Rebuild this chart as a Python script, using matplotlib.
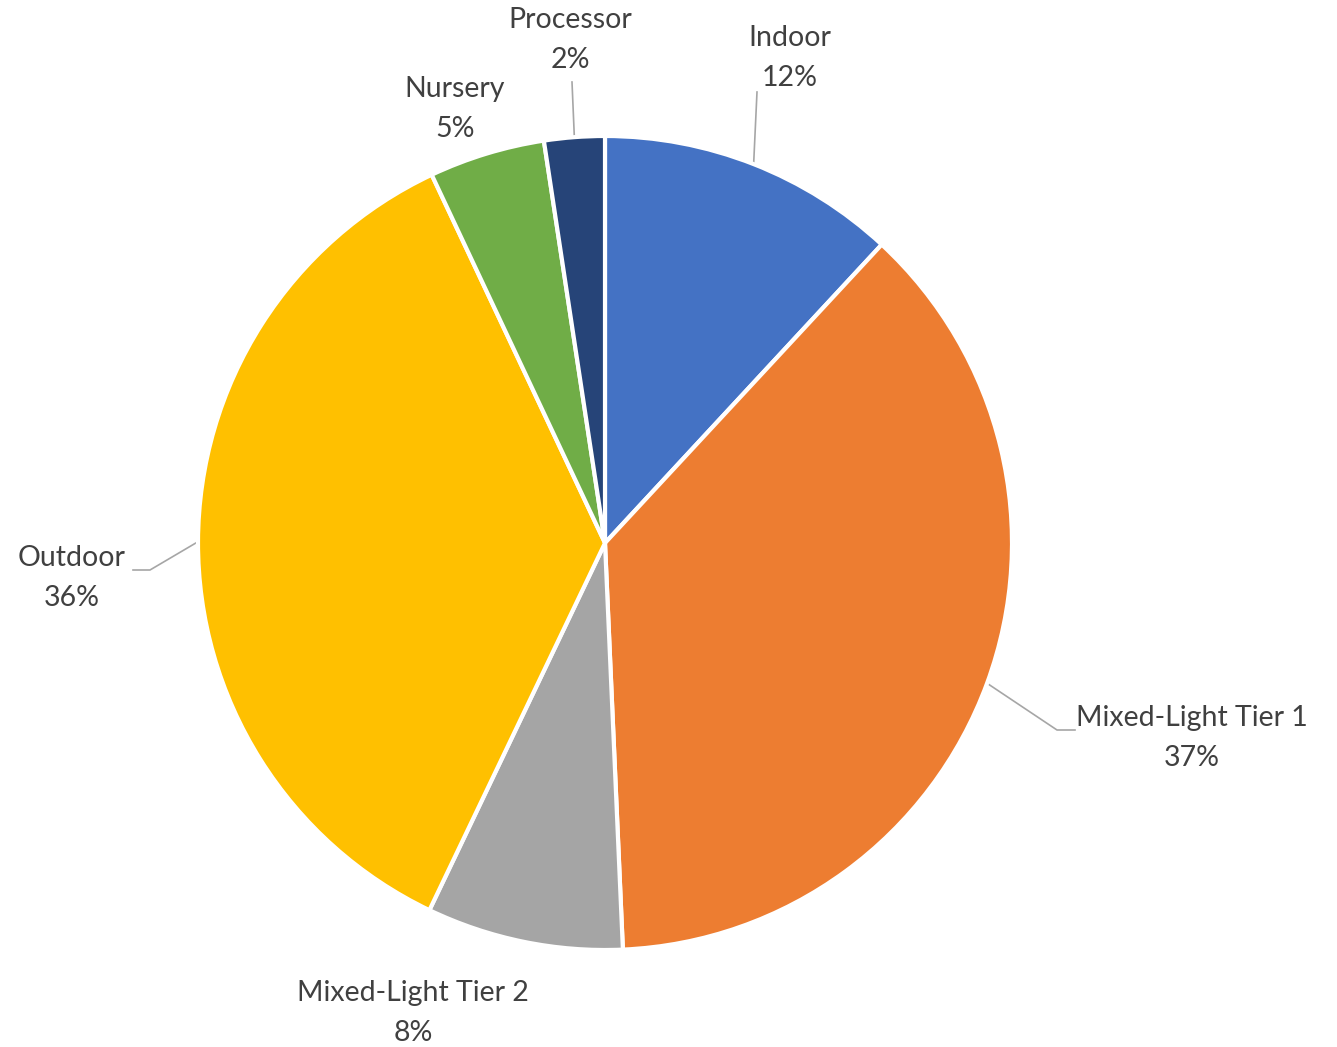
import numpy as np
import matplotlib
matplotlib.use("Agg")
import matplotlib.pyplot as plt

# data
categories = ["Indoor", "Mixed-Light Tier 1", "Mixed-Light Tier 2",
              "Outdoor", "Nursery", "Processor"]
shares = [11.9, 37.4, 7.8, 35.9, 4.6, 2.4]
pct_labels = ["12%", "37%", "8%", "36%", "5%", "2%"]
colors = ["#4472C4", "#ED7D31", "#A5A5A5", "#FFC000", "#70AD47", "#264478"]

W, H = 1337, 1047
fig = plt.figure(figsize=(W / 100, H / 100), dpi=100)
ax = fig.add_axes([0, 0, 1, 1])

cx, cy, r = 605, H - 543, 407
wedges, _ = ax.pie(shares, colors=colors, startangle=90, counterclock=False,
                   center=(cx, cy), radius=r,
                   wedgeprops=dict(edgecolor="white", linewidth=3))

# pie() resets limits, so set the pixel frame afterwards
ax.set_xlim(0, W)
ax.set_ylim(0, H)
ax.set_aspect("equal")
ax.axis("off")

# label layout (pixel coords, image y downward) and leader-line elbows
label_pos = {
    "Indoor": (790, 58),
    "Mixed-Light Tier 1": (1192, 738),
    "Mixed-Light Tier 2": (413, 1013),
    "Outdoor": (72, 578),
    "Nursery": (455, 109),
    "Processor": (570, 40),
}
leaders = {
    "Indoor": [(757, 92)],
    "Mixed-Light Tier 1": [(1057, 730), (1075, 730)],
    "Outdoor": [(150, 570), (133, 570)],
    "Processor": [(572, 82)],
}

for w, name, pct in zip(wedges, categories, pct_labels):
    x, y = label_pos[name]
    ax.text(x, H - y, f"{name}\n{pct}", ha="center", va="center",
            fontsize=20.5, family=["Lato", "DejaVu Sans"], color="#404040",
            linespacing=1.7)
    if name in leaders:
        mid = np.deg2rad((w.theta1 + w.theta2) / 2)
        pts = [(cx + r * np.cos(mid), cy + r * np.sin(mid))]
        pts += [(px, H - py) for px, py in leaders[name]]
        xs, ys = zip(*pts)
        ax.plot(xs, ys, color="#A6A6A6", linewidth=1.2, zorder=0.5)

fig.savefig("out.png", dpi=100)
